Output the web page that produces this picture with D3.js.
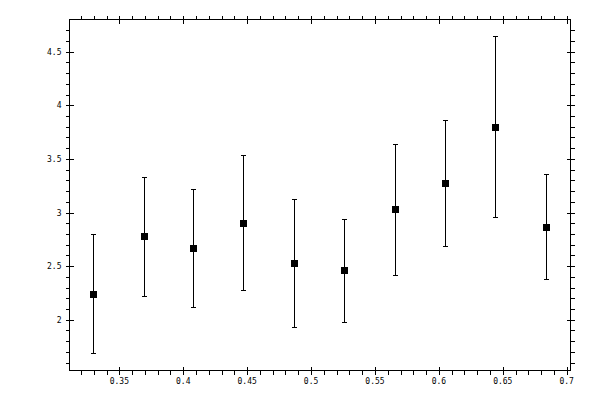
<!DOCTYPE html>
<html lang="en">
<head>
<meta charset="UTF-8">
<title>Error bar plot</title>
<script src="https://d3js.org/d3.v7.min.js"></script>
<style>
  body { margin: 0; background: #fff; }
  .tick-label { font-family: 'DejaVu Sans Mono', monospace; font-size: 8px; fill: #000; }
</style>
</head>
<body>
<svg id="chart" width="600" height="400"></svg>
<script>
// data
const xValues = [0.329, 0.369, 0.408, 0.447, 0.487, 0.526, 0.566, 0.605, 0.644, 0.684];
const yValues = [2.243, 2.784, 2.672, 2.905, 2.532, 2.466, 3.035, 3.278, 3.800, 2.868];
const yHigh   = [2.798, 3.334, 3.222, 3.536, 3.129, 2.942, 3.642, 3.866, 4.649, 3.362];
const yLow    = [1.686, 2.224, 2.115, 2.280, 1.935, 1.981, 2.420, 2.690, 2.961, 2.376];

const xTicks = [0.35, 0.4, 0.45, 0.5, 0.55, 0.6, 0.65, 0.7];
const yTicks = [2, 2.5, 3, 3.5, 4, 4.5];
const xMinorStep = 0.01;
const yMinorStep = 0.1;

const svg = d3.select("#chart");
const pLeft = 69.5, pRight = 570.5, pTop = 19.5, pBottom = 370.5;

const x = d3.scaleLinear().domain([0.311, 0.703]).range([pLeft, pRight]);
const y = d3.scaleLinear().domain([1.527, 4.80]).range([pBottom, pTop]);

const g = svg.append("g").attr("shape-rendering", "crispEdges");

// frame
g.append("rect")
    .attr("x", pLeft).attr("y", pTop)
    .attr("width", pRight - pLeft).attr("height", pBottom - pTop)
    .attr("fill", "none").attr("stroke", "#000").attr("stroke-width", 1);

// minor ticks, outside only
const xMinor = d3.range(Math.ceil(x.domain()[0] / xMinorStep), Math.floor(x.domain()[1] / xMinorStep) + 1)
    .map(i => i * xMinorStep);
const yMinor = d3.range(Math.ceil(y.domain()[0] / yMinorStep), Math.floor(y.domain()[1] / yMinorStep) + 1)
    .map(i => i * yMinorStep);

xMinor.forEach(v => {
    const px = Math.round(x(v)) + 0.5;
    g.append("line").attr("x1", px).attr("x2", px).attr("y1", pBottom).attr("y2", pBottom + 4).attr("stroke", "#000");
    g.append("line").attr("x1", px).attr("x2", px).attr("y1", pTop).attr("y2", pTop - 4).attr("stroke", "#000");
});
yMinor.forEach(v => {
    const py = Math.round(y(v)) + 0.5;
    g.append("line").attr("y1", py).attr("y2", py).attr("x1", pLeft).attr("x2", pLeft - 4).attr("stroke", "#000");
    g.append("line").attr("y1", py).attr("y2", py).attr("x1", pRight).attr("x2", pRight + 4).attr("stroke", "#000");
});

// major ticks cross the frame
xTicks.forEach(v => {
    const px = Math.round(x(v)) + 0.5;
    g.append("line").attr("x1", px).attr("x2", px).attr("y1", pBottom - 4).attr("y2", pBottom + 4).attr("stroke", "#000");
    g.append("line").attr("x1", px).attr("x2", px).attr("y1", pTop - 4).attr("y2", pTop + 4).attr("stroke", "#000");
});
yTicks.forEach(v => {
    const py = Math.round(y(v)) + 0.5;
    g.append("line").attr("y1", py).attr("y2", py).attr("x1", pLeft - 4).attr("x2", pLeft + 4).attr("stroke", "#000");
    g.append("line").attr("y1", py).attr("y2", py).attr("x1", pRight - 4).attr("x2", pRight + 4).attr("stroke", "#000");
});

// tick labels
svg.selectAll(".xlab").data(xTicks).enter().append("text")
    .attr("class", "tick-label")
    .attr("x", d => x(d))
    .attr("y", 384)
    .attr("text-anchor", "middle")
    .text(d => String(d));

svg.selectAll(".ylab").data(yTicks).enter().append("text")
    .attr("class", "tick-label")
    .attr("x", 61.5)
    .attr("y", d => y(d) + 3)
    .attr("text-anchor", "end")
    .text(d => String(d));

// error bars
const pts = xValues.map((v, i) => ({ x: v, y: yValues[i], hi: yHigh[i], lo: yLow[i] }));
const bars = g.selectAll(".err").data(pts).enter().append("g");
bars.append("line")
    .attr("x1", d => Math.round(x(d.x)) + 0.5).attr("x2", d => Math.round(x(d.x)) + 0.5)
    .attr("y1", d => y(d.hi)).attr("y2", d => y(d.lo))
    .attr("stroke", "#000");
bars.append("line")
    .attr("x1", d => Math.round(x(d.x)) - 2).attr("x2", d => Math.round(x(d.x)) + 3)
    .attr("y1", d => Math.round(y(d.hi)) + 0.5).attr("y2", d => Math.round(y(d.hi)) + 0.5)
    .attr("stroke", "#000");
bars.append("line")
    .attr("x1", d => Math.round(x(d.x)) - 2).attr("x2", d => Math.round(x(d.x)) + 3)
    .attr("y1", d => Math.round(y(d.lo)) + 0.5).attr("y2", d => Math.round(y(d.lo)) + 0.5)
    .attr("stroke", "#000");

// square markers
g.selectAll(".pt").data(pts).enter().append("rect")
    .attr("x", d => Math.round(x(d.x)) - 3)
    .attr("y", d => Math.round(y(d.y)) - 3)
    .attr("width", 7).attr("height", 7)
    .attr("fill", "#000");
</script>
</body>
</html>
